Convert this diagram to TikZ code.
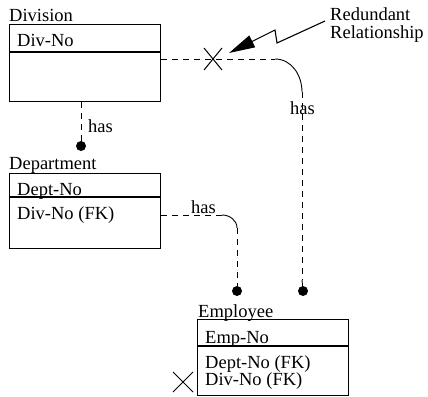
\documentclass[tikz,border=0pt]{standalone}
\usepackage{fontspec}
\setmainfont{Liberation Serif}
\usetikzlibrary{arrows.meta,calc}
\begin{document}
\begin{tikzpicture}[x=1pt,y=-1pt,
  entity/.style={draw, line width=1.2pt, anchor=north west, inner sep=0pt, minimum width=151pt},
  lbl/.style={anchor=base west, inner sep=0pt, font=\fontsize{18.5}{20}\selectfont},
  dot/.style={circle, fill, inner sep=0pt, minimum size=10pt},
  rel/.style={dash pattern=on 6pt off 5pt, line width=0.9pt},
  arc/.style={line width=0.9pt},
  cross/.style={line width=1pt}]
\useasboundingbox (0,0) rectangle (428,396);
% Division
\node[lbl] (tdiv) at (9,22) {Division};
\node[entity, minimum height=77pt] (div) at (9,24) {};
\draw[line width=1.2pt] (9,52) -- (160,52);
\node[lbl] (tdivno) at (17,47) {Div-No};
% Department
\node[lbl] (tdep) at (9,169) {Department};
\node[entity, minimum height=75pt] (dep) at (9,173) {};
\draw[line width=1.2pt] (9,197) -- (160,197);
\node[lbl] (tdepno) at (17,195) {Dept-No};
\node[lbl] (tdepdiv) at (17,219) {Div-No (FK)};
% Employee
\node[lbl] (temp) at (198,317) {Employee};
\node[entity, minimum height=76pt] (emp) at (197,319) {};
\draw[line width=1.2pt] (197,346) -- (348,346);
\node[lbl] (tempno) at (205,343) {Emp-No};
\node[lbl] (tempdep) at (205,368) {Dept-No (FK)};
\node[lbl] (tempdiv) at (205,385) {Div-No (FK)};
% Division - Department
\node[dot] (d1) at (81,146) {};
\draw[rel] (div.south -| 81,0) -- (d1);
\node[lbl] (h1) at (88,132) {has};
% Department - Employee
\coordinate (a2s) at (222,215);
\coordinate (a2e) at (237,228);
\node[dot] (d2) at (237,291) {};
\draw[rel] (dep.east |- a2s) -- (a2s);
\draw[arc] (a2s) to[out=0,in=90] (a2e);
\draw[rel] (a2e) -- (d2);
\node[lbl] (h2) at (191,213) {has};
% Division - Employee (redundant)
\coordinate (a3s) at (275,59);
\coordinate (a3e) at (302,92);
\node[dot] (d3) at (303,291) {};
\draw[rel] (div.east |- a3s) -- (a3s);
\draw[arc] (a3s) to[out=0,in=90] (a3e);
\draw[rel] (a3e) -- (302,280);
\draw[line width=0.9pt] (302,280) -- (d3);
\node[lbl] (h3) at (290,114) {has};
% cross on redundant line
\coordinate (x1) at (213,59);
\draw[cross] ($(x1)+(-9,-11)$) -- ($(x1)+(9,11)$);
\draw[cross] ($(x1)+(-9,11)$) -- ($(x1)+(9,-11)$);
% cross at employee
\coordinate (x2) at (183,382);
\draw[cross] ($(x2)+(-10,-10)$) -- ($(x2)+(10,10)$);
\draw[cross] ($(x2)+(-10,10)$) -- ($(x2)+(10,-10)$);
% Note
\node[lbl] (n1) at (330,21) {Redundant};
\node[lbl] (n2) at (330,39) {Relationship};
\coordinate (z1) at (325,21);
\coordinate (z2) at (277,43);
\coordinate (z3) at (275,30);
\coordinate (tip) at (229,53);
\draw[line width=1.1pt, -{Triangle[length=26pt,width=13pt]}] (z1) -- (z2) -- (z3) -- (tip);
\end{tikzpicture}
\end{document}
